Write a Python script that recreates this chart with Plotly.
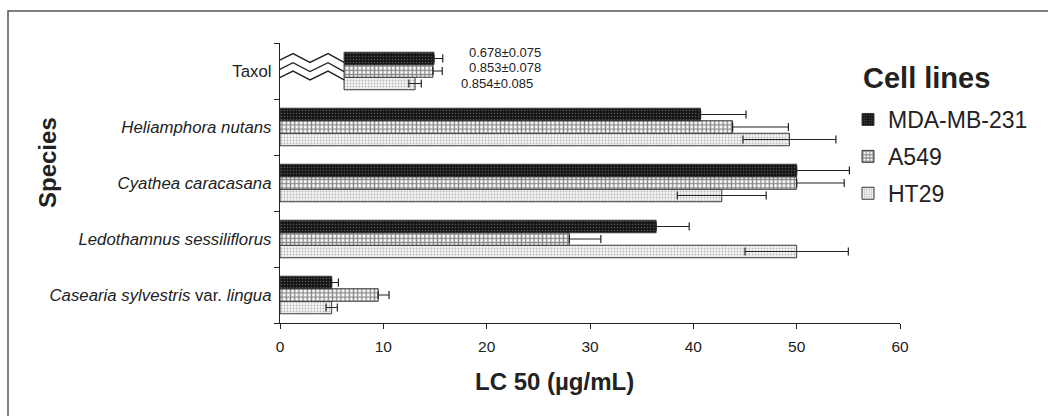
import plotly.graph_objects as go

# ---- data (bottom to top) ----
species = [
    "<i>Casearia sylvestris</i> var. <i>lingua</i>",
    "<i>Ledothamnus sessiliflorus</i>",
    "<i>Cyathea caracasana</i>",
    "<i>Heliamphora nutans</i>",
    "Taxol",
]
series_names = ["MDA-MB-231", "A549", "HT29"]
mda = [5.0, 36.4, 50.0, 40.7, 14.9]
mda_err = [0.65, 3.2, 5.1, 4.4, 0.85]
a549 = [9.5, 28.0, 50.0, 43.8, 14.8]
a549_err = [1.05, 3.05, 4.6, 5.4, 0.9]
ht29 = [5.0, 50.0, 42.75, 49.3, 13.07]
ht29_err = [0.55, 5.0, 4.3, 4.5, 0.6]
bar_base = [0, 0, 0, 0, 6.2]  # Taxol bars drawn on a broken axis
taxol_labels = ["0.678±0.075", "0.853±0.078", "0.854±0.085"]

FONT = "Liberation Sans, Arial, sans-serif"
ypos = list(range(len(species)))

styles = {
    "MDA-MB-231": dict(color="#161616", pattern=dict(shape=".", fgcolor="#909090", size=3, solidity=0.22, fillmode="overlay")),
    "A549": dict(color="#ffffff", pattern=dict(shape="+", fgcolor="#111111", size=4.2, solidity=0.55, fillmode="overlay")),
    "HT29": dict(color="#f4f4f4", pattern=dict(shape=".", fgcolor="#777777", size=3, solidity=0.27, fillmode="overlay")),
}
data = {"MDA-MB-231": (mda, mda_err), "A549": (a549, a549_err), "HT29": (ht29, ht29_err)}
# lower whiskers are only visible on the light HT29 bars in the original
show_lower = {"MDA-MB-231": False, "A549": False, "HT29": True}

fig = go.Figure()
# added bottom-to-top so MDA-MB-231 is the top bar of each group
for name in ["HT29", "A549", "MDA-MB-231"]:
    vals, errs = data[name]
    lengths = [v - b for v, b in zip(vals, bar_base)]
    st = styles[name]
    minus = errs if show_lower[name] else [0] * len(errs)
    fig.add_trace(go.Bar(
        y=ypos, x=lengths, base=bar_base, orientation="h", name=name,
        legendgroup=name, legendrank=series_names.index(name) + 1,
        marker=dict(color=st["color"], pattern=st["pattern"], line=dict(color="#3a3a3a", width=1)),
        error_x=dict(type="data", symmetric=False, array=errs, arrayminus=minus, visible=True,
                     color="#222222", thickness=1.2, width=4),
    ))

# axis-break zigzags on the Taxol row
break_x = [-0.48, 1.26, 2.9, 4.65, 6.2]
break_offsets = [0.232, 0.068, -0.080]
zig = [-0.079, 0.079, -0.079, 0.079, -0.079]
for off in break_offsets:
    fig.add_trace(go.Scatter(
        x=break_x, y=[4 + off + z for z in zig], mode="lines",
        line=dict(color="#222222", width=1.3), showlegend=False, hoverinfo="skip", cliponaxis=False,
    ))

annotations = []
label_x = [18.1, 18.1, 17.3]
label_dy = [0.33, 0.06, -0.22]
for t, lx, dy in zip(taxol_labels, label_x, label_dy):
    annotations.append(dict(x=lx, y=4 + dy, xref="x", yref="y", text=t, showarrow=False,
                            xanchor="left", yanchor="middle", font=dict(size=13, color="#222", family=FONT)))

L, R, T, B = 280, 148, 43, 93
W, H = 1048, 416
pw, ph = W - L - R, H - T - B

def px_x(px):
    return (px - L) / pw

def px_y(py):
    return (H - B - py) / ph

annotations.append(dict(x=px_x(554), y=px_y(381), xref="paper", yref="paper", text="<b>LC 50 (µg/mL)</b>",
                        showarrow=False, xanchor="center", yanchor="middle", font=dict(size=24, color="#222", family=FONT)))
annotations.append(dict(x=px_x(47), y=px_y(163), xref="paper", yref="paper", text="<b>Species</b>", textangle=-90,
                        showarrow=False, xanchor="center", yanchor="middle", font=dict(size=24, color="#222", family=FONT)))
annotations.append(dict(x=px_x(861), y=px_y(78), xref="paper", yref="paper", text="<b>Cell lines</b>",
                        showarrow=False, xanchor="left", yanchor="middle", font=dict(size=29, color="#222", family=FONT)))

fig.update_layout(
    width=W, height=H,
    margin=dict(l=L, r=R, t=T, b=B, autoexpand=False),
    paper_bgcolor="white", plot_bgcolor="white",
    barmode="group", bargap=0.33, bargroupgap=0,
    font=dict(family=FONT, color="#222"),
    annotations=annotations,
    legend=dict(
        x=px_x(848), y=px_y(98), xanchor="left", yanchor="top",
        traceorder="grouped", itemwidth=30, tracegroupgap=4,
        font=dict(size=23, color="#222", family=FONT),
        bgcolor="rgba(0,0,0,0)",
    ),
    xaxis=dict(range=[0, 60], dtick=10, tick0=0, showline=True, linecolor="#222", linewidth=1.3,
               ticks="outside", ticklen=5, tickcolor="#222", showgrid=False, zeroline=False, automargin=False,
               tickfont=dict(size=15.5, color="#222", family=FONT), ticklabelstandoff=4),
    yaxis=dict(range=[-0.5, 4.5], tickmode="array", tickvals=ypos, ticktext=species, ticks="",
               showline=True, linecolor="#222", linewidth=1.3, showgrid=False, zeroline=False, automargin=False,
               tickfont=dict(size=16.8, color="#222", family=FONT), ticklabelstandoff=4,
               minor=dict(tickmode="array", tickvals=[-0.5, 0.5, 1.5, 2.5, 3.5, 4.5], ticks="outside",
                          ticklen=5, tickcolor="#222", tickwidth=1.3, showgrid=False)),
    shapes=[dict(type="rect", xref="paper", yref="paper", x0=px_x(8), x1=px_x(1070), y0=px_y(440), y1=px_y(11),
                 line=dict(color="#555", width=1.5), fillcolor="rgba(0,0,0,0)", layer="below")],
)

fig.write_html("out.html", config={"displayModeBar": False},
               post_script="document.body.style.margin='0';document.body.style.overflow='hidden';")
